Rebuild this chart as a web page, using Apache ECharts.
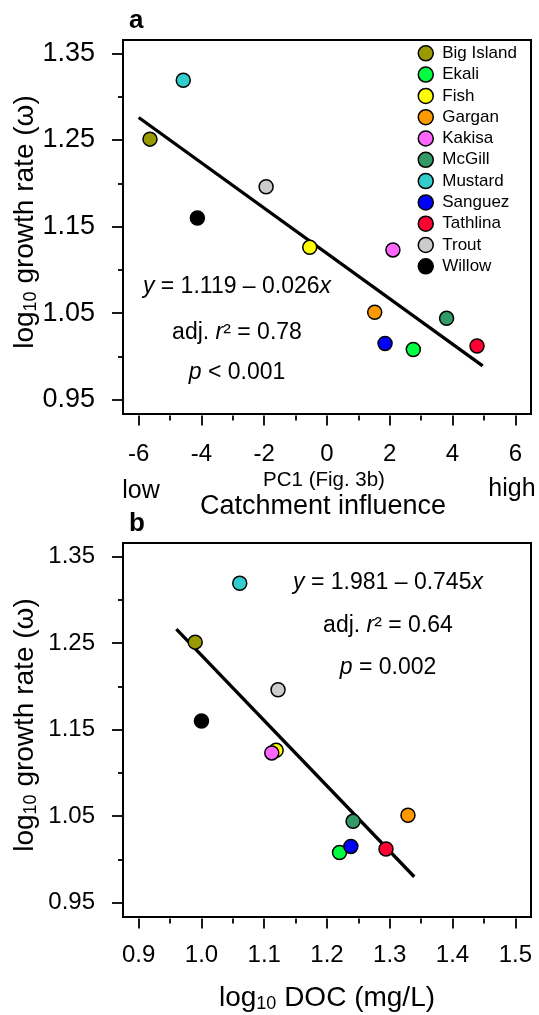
<!DOCTYPE html>
<html><head><meta charset="utf-8">
<script src="https://cdn.jsdelivr.net/npm/echarts@6/dist/echarts.min.js"></script>
<style>html,body{margin:0;padding:0;background:#fff}#c{width:539px;height:1015px}</style>
</head><body><div id="c"></div>
<script>
const lakes = ['Big Island','Ekali','Fish','Gargan','Kakisa','McGill','Mustard','Sanguez','Tathlina','Trout','Willow'];
const lakeColors = ['#999900','#00ff40','#ffff00','#ff9900','#ff66ff','#339966','#33cccc','#0000ff','#ff0033','#cccccc','#000000'];
const growthRate = [1.251,1.008,1.126,1.051,1.123,1.044,1.319,1.015,1.012,1.196,1.160];
const pc1 = [-5.64,2.75,-0.55,1.52,2.10,3.81,-4.58,1.85,4.78,-1.94,-4.13];
const logDOC = [0.990,1.220,1.119,1.329,1.112,1.2415,1.061,1.238,1.294,1.122,1.000];
const fitAx = [-6.0, 4.96];
const fitAy = [1.276, 0.989];
const fitBx = [0.960, 1.339];
const fitBy = [1.266, 0.980];
const yMajor = [0.95,1.05,1.15,1.25,1.35];
const yMinor = [1.00,1.10,1.20,1.30];
const xMajorA = [-6,-4,-2,0,2,4,6];
const xMinorA = [-5,-3,-1,1,3,5];
const xMajorB = [0.9,1.0,1.1,1.2,1.3,1.4,1.5];
const xMinorB = [0.95,1.05,1.15,1.25,1.35,1.45];

const FF = '"Liberation Sans", Arial, Helvetica, sans-serif';
const Y_MIN = 0.9335, Y_MAX = 1.3655;

function xAx(grid, min, max, ticks, len, labels, fs, margin, fmt) {
  return {
    type: 'value', gridIndex: grid, min: min, max: max, position: 'bottom', offset: 1.5,
    axisLine: {show: false, onZero: false}, splitLine: {show: false},
    axisTick: {show: true, customValues: ticks, length: len, lineStyle: {color: '#000', width: 1.8}},
    axisLabel: labels ? {show: true, customValues: labels, fontSize: fs, fontFamily: FF, color: '#000', margin: margin, formatter: fmt} : {show: false}
  };
}
function yAx(grid, ticks, len, labels, fs) {
  return {
    type: 'value', gridIndex: grid, min: Y_MIN, max: Y_MAX, position: 'left',
    axisLine: {show: false, onZero: false}, splitLine: {show: false},
    axisTick: {show: true, customValues: ticks, length: len, lineStyle: {color: '#000', width: 1.8}},
    axisLabel: labels ? {show: true, customValues: labels, fontSize: fs, fontFamily: FF, color: '#000', margin: 28, formatter: v => v.toFixed(2)} : {show: false}
  };
}

const series = [
  {type: 'line', name: 'fitA', xAxisIndex: 0, yAxisIndex: 0, z: 1, silent: true, symbol: 'none', showSymbol: false,
   data: [[fitAx[0], fitAy[0]], [fitAx[1], fitAy[1]]], lineStyle: {color: '#000', width: 3.3}},
  {type: 'line', name: 'fitB', xAxisIndex: 2, yAxisIndex: 2, z: 1, silent: true, symbol: 'none', showSymbol: false,
   data: [[fitBx[0], fitBy[0]], [fitBx[1], fitBy[1]]], lineStyle: {color: '#000', width: 3.3}}
];
lakes.forEach((name, i) => {
  const st = {color: lakeColors[i], borderColor: '#000', borderWidth: 1.5, opacity: 1};
  series.push({type: 'scatter', name: name, xAxisIndex: 0, yAxisIndex: 0, symbol: 'circle', symbolSize: 14,
    itemStyle: st, data: [[pc1[i], growthRate[i]]]});
  series.push({type: 'scatter', name: name, xAxisIndex: 2, yAxisIndex: 2, symbol: 'circle', symbolSize: 14,
    itemStyle: st, data: [[logDOC[i], growthRate[i]]]});
});

function txt(x, y, text, font, opts) {
  opts = opts || {};
  return {
    type: 'text', x: x, y: y, rotation: opts.rotation || 0, silent: true,
    style: {
      text: text, font: font, fill: '#000',
      align: opts.align || 'center', textAlign: opts.align || 'center',
      verticalAlign: 'middle', textVerticalAlign: 'middle',
      rich: opts.rich
    }
  };
}
const eqFont = '23px ' + FF;
const eqRich = {i: {font: 'italic 23px ' + FF}};
const subRich = {s: {font: '18px ' + FF, padding: [13, 0, 0, 0]}};

const graphic = [
  txt(129, 21, 'a', 'bold 26px ' + FF, {align: 'left'}),
  txt(129, 524, 'b', 'bold 26px ' + FF, {align: 'left'}),
  txt(25, 222, 'log{s|10} growth rate (ω)', '28px ' + FF, {rotation: Math.PI / 2, rich: subRich}),
  txt(25, 725, 'log{s|10} growth rate (ω)', '28px ' + FF, {rotation: Math.PI / 2, rich: subRich}),
  txt(324, 480, 'PC1 (Fig. 3b)', '20.5px ' + FF),
  txt(141, 491, 'low', '25px ' + FF),
  txt(512, 489, 'high', '25px ' + FF),
  txt(323, 507, 'Catchment influence', '27px ' + FF),
  txt(327, 998, 'log{s|10} DOC (mg/L)', '28px ' + FF, {rich: subRich}),
  txt(237, 287, '{i|y} = 1.119 – 0.026{i|x}', eqFont, {rich: eqRich}),
  txt(237, 333, 'adj. {i|r}² = 0.78', eqFont, {rich: eqRich}),
  txt(237, 373, '{i|p} < 0.001', eqFont, {rich: eqRich}),
  txt(388, 583, '{i|y} = 1.981 – 0.745{i|x}', eqFont, {rich: eqRich}),
  txt(388, 626, 'adj. {i|r}² = 0.64', eqFont, {rich: eqRich}),
  txt(388, 668, '{i|p} = 0.002', eqFont, {rich: eqRich})
];

const chart = echarts.init(document.getElementById('c'), null, {renderer: 'canvas'});
chart.setOption({
  animation: false,
  backgroundColor: '#fff',
  grid: [
    {left: 123, right: 8, top: 40, height: 374, show: true, borderColor: '#000', borderWidth: 2, backgroundColor: 'transparent', outerBoundsMode: 'none'},
    {left: 123, right: 8, top: 543, height: 374, show: true, borderColor: '#000', borderWidth: 2, backgroundColor: 'transparent', outerBoundsMode: 'none'}
  ],
  xAxis: [
    xAx(0, -6.5, 6.5, xMajorA, 10, xMajorA, 24, 27, v => String(v)),
    xAx(0, -6.5, 6.5, xMinorA, 5, null),
    xAx(1, 0.875, 1.525, xMajorB, 10, xMajorB, 24, 25, v => v.toFixed(1)),
    xAx(1, 0.875, 1.525, xMinorB, 5, null)
  ],
  yAxis: [
    yAx(0, yMajor, 11, yMajor, 27),
    yAx(0, yMinor, 5, null),
    yAx(1, yMajor, 11, yMajor, 24),
    yAx(1, yMinor, 5, null)
  ],
  legend: {
    data: lakes, orient: 'vertical', left: 417.5, top: 44.8, padding: 0,
    itemWidth: 15, itemHeight: 15, itemGap: 4.3, icon: 'circle', selectedMode: false,
    itemStyle: {borderColor: '#000', borderWidth: 1.5, opacity: 1},
    textStyle: {fontSize: 17, lineHeight: 17, fontFamily: FF, color: '#000', padding: [0, 0, 0, 4]}
  },
  graphic: graphic,
  series: series
});
</script>
</body></html>
